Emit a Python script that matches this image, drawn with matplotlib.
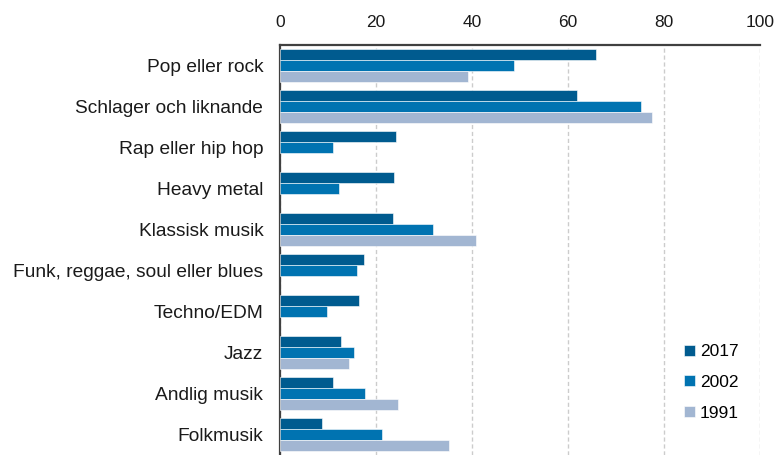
import matplotlib
matplotlib.use('Agg')
import matplotlib.pyplot as plt
import numpy as np

# Genres and shares (percent) per survey year (nan = not asked that year)
genres = ['Pop eller rock', 'Schlager och liknande', 'Rap eller hip hop', 'Heavy metal',
          'Klassisk musik', 'Funk, reggae, soul eller blues', 'Techno/EDM', 'Jazz',
          'Andlig musik', 'Folkmusik']
v2017 = [65.8, 61.9, 24.2, 23.8, 23.5, 17.5, 16.5, 12.8, 11.1, 8.8]
v2002 = [48.8, 75.2, 11.1, 12.2, 31.9, 16.1, 9.8, 15.5, 17.8, 21.2]
v1991 = [39.2, 77.6, np.nan, np.nan, 40.9, np.nan, np.nan, 14.4, 24.5, 35.2]
years = ['2017', '2002', '1991']
colors = ['#005b8f', '#0073b1', '#a2b6d2']

plt.rcParams['font.family'] = ['Liberation Sans', 'DejaVu Sans']

fig = plt.figure(figsize=(7.76, 4.55), dpi=100)
ax = fig.add_axes([280 / 776, 0.0, 480 / 776, 1 - 45 / 455])

y = np.arange(len(genres))
h = 0.275
for i, (vals, lab, col) in enumerate(zip([v2017, v2002, v1991], years, colors)):
    ax.barh(y + (i - 1) * h, vals, height=h, color=col, edgecolor='white',
            linewidth=0.4, label=lab, zorder=3)

ax.set_xlim(0, 100)
ax.set_ylim(len(genres) - 0.5, -0.5)
ax.set_xticks([0, 20, 40, 60, 80, 100])
ax.set_yticks(y)
ax.set_yticklabels(genres, fontsize=13.8, color='#1a1a1a')
ax.xaxis.tick_top()
ax.tick_params(axis='x', length=0, pad=11, labelsize=12.5, labelcolor='#1a1a1a')
ax.tick_params(axis='y', length=0, pad=12)

ax.grid(axis='x', linestyle=(0, (3, 2)), color='#cccccc', linewidth=1, zorder=0)
ax.spines['right'].set_visible(False)
ax.spines['bottom'].set_visible(False)
for s in ['left', 'top']:
    ax.spines[s].set_color('#404040')
    ax.spines[s].set_linewidth(1.6)

leg = ax.legend(loc='lower right', bbox_to_anchor=(0.985, 0.05), fontsize=12.5,
                frameon=True, facecolor='white', edgecolor='none', framealpha=1,
                handlelength=0.6, handleheight=0.6, handletextpad=0.3,
                labelspacing=0.9, borderpad=0.3)

fig.savefig('out.png', dpi=100)
